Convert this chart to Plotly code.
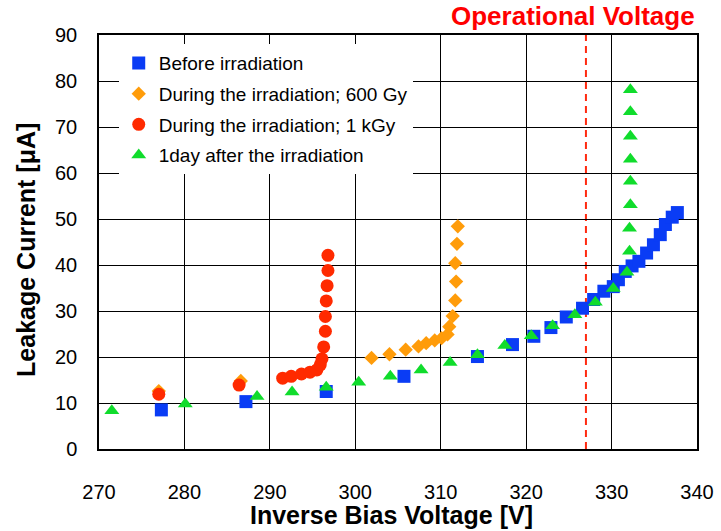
import plotly.graph_objects as go

# Data
blue_v = [277.3, 287.2, 296.6, 305.7, 314.3, 318.4, 320.9, 322.9, 324.7, 326.6, 327.9, 329.1,
          330.2, 330.8, 331.6, 332.4, 333.2, 334.1, 334.9, 335.7, 336.3, 337.1, 337.7]
blue_i = [8.5, 10.3, 12.5, 15.8, 20.1, 22.7, 24.5, 26.4, 28.7, 30.6, 32.5, 34.3,
          35.3, 36.8, 38.6, 39.8, 40.8, 42.6, 44.4, 46.6, 48.8, 50.4, 51.4]

orange_v = [277.0, 286.6, 301.9, 304.0, 305.9, 307.4, 308.3, 309.3, 310.1, 310.8, 311.0,
            311.4, 311.7, 311.8, 311.7, 311.9, 312.0]
orange_i = [12.6, 14.8, 19.8, 20.6, 21.6, 22.3, 23.0, 23.6, 24.1, 24.9, 26.6,
            28.9, 32.3, 36.4, 40.4, 44.6, 48.4]

red_v = [277.0, 286.4, 291.5, 292.5, 293.7, 294.7, 295.5, 295.9, 296.1, 296.3, 296.5,
         296.5, 296.6, 296.7, 296.8, 296.8]
red_i = [11.9, 13.9, 15.4, 15.8, 16.3, 16.7, 17.2, 18.3, 19.6, 22.2, 25.6,
         28.8, 32.2, 35.5, 38.8, 42.1]

green_v = [271.5, 280.1, 288.5, 292.6, 296.6, 300.4, 304.1, 307.7, 311.1, 314.3, 317.5,
           320.6, 323.1, 325.7, 328.1, 330.2, 331.8, 332.1, 332.1, 332.2, 332.2, 332.2,
           332.2, 332.2, 332.2]
green_i = [8.3, 9.8, 11.4, 12.4, 13.4, 14.5, 15.8, 17.2, 18.8, 20.5, 22.5,
           24.6, 26.8, 29.2, 31.9, 34.9, 38.4, 43.0, 48.0, 53.1, 58.2, 63.0,
           68.0, 73.3, 78.1]

series_names = ["Before irradiation", "During the irradiation; 600 Gy",
                "During the irradiation; 1 kGy", "1day after the irradiation"]
operational_voltage = 327
x_ticks = [270, 280, 290, 300, 310, 320, 330, 340]
y_ticks = [0, 10, 20, 30, 40, 50, 60, 70, 80, 90]

FONT = "Liberation Sans, Arial, Helvetica, sans-serif"

fig = go.Figure()
fig.add_trace(go.Scatter(x=blue_v, y=blue_i, mode="markers", name=series_names[0],
                         legendgroup="a",
                         marker=dict(symbol="square", size=13, color="#0a3cf5")))
fig.add_trace(go.Scatter(x=orange_v, y=orange_i, mode="markers", name=series_names[1],
                         legendgroup="b",
                         marker=dict(symbol="diamond", size=11, color="#ff9c0a")))
fig.add_trace(go.Scatter(x=red_v, y=red_i, mode="markers", name=series_names[2],
                         legendgroup="c",
                         marker=dict(symbol="circle", size=13, color="#ff2a00")))
fig.add_trace(go.Scatter(x=green_v, y=green_i, mode="markers", name=series_names[3],
                         legendgroup="d",
                         marker=dict(symbol="triangle-up", size=13, color="#10dc2c")))

fig.add_shape(type="line", xref="x", yref="paper", x0=operational_voltage, x1=operational_voltage,
              y0=0, y1=1, line=dict(color="#ff2a10", width=2, dash="7px,5px"), layer="between")

fig.add_annotation(text="<b>Operational Voltage</b>", xref="paper", yref="paper",
                   x=1, y=1.046, xanchor="right", yanchor="middle", showarrow=False,
                   font=dict(family=FONT, size=26, color="#ff0000"))

fig.add_annotation(text="<b>Inverse Bias Voltage [V]</b>", xref="paper", yref="paper",
                   x=0.489, y=-0.16, xanchor="center", yanchor="middle", showarrow=False,
                   font=dict(family=FONT, size=25, color="black"))
fig.add_annotation(text="<b>Leakage Current [μA]</b>", xref="paper", yref="paper",
                   x=-0.122, y=0.481, xanchor="center", yanchor="middle", showarrow=False,
                   textangle=-90, font=dict(family=FONT, size=25, color="black"))

fig.update_layout(
    width=721, height=531,
    margin=dict(l=99, r=24, t=35, b=82, autoexpand=False),
    paper_bgcolor="white", plot_bgcolor="white",
    font=dict(family=FONT, size=20, color="black"),
    showlegend=True,
    legend=dict(x=0.033, y=0.978, xanchor="left", yanchor="top",
                bgcolor="white", borderwidth=0, tracegroupgap=3,
                font=dict(family=FONT, size=19, color="black"),
                itemsizing="trace"),
    xaxis=dict(range=[270, 340], tickvals=x_ticks, showgrid=True, gridcolor="black", gridwidth=1.3,
               showline=True, linecolor="black", linewidth=1.5, mirror=True, ticks="",
               ticklabelstandoff=24, zeroline=False, automargin=False),
    yaxis=dict(range=[0, 90], tickvals=y_ticks, showgrid=True, gridcolor="black", gridwidth=1.3,
               showline=True, linecolor="black", linewidth=1.5, mirror=True, ticks="",
               ticklabelstandoff=16, zeroline=False, automargin=False),
)

# remove the default 8px page margin so the figure starts at the window's corner
fig.write_html("out.html", post_script="document.body.style.margin='0';",
               config={"displayModeBar": False})
